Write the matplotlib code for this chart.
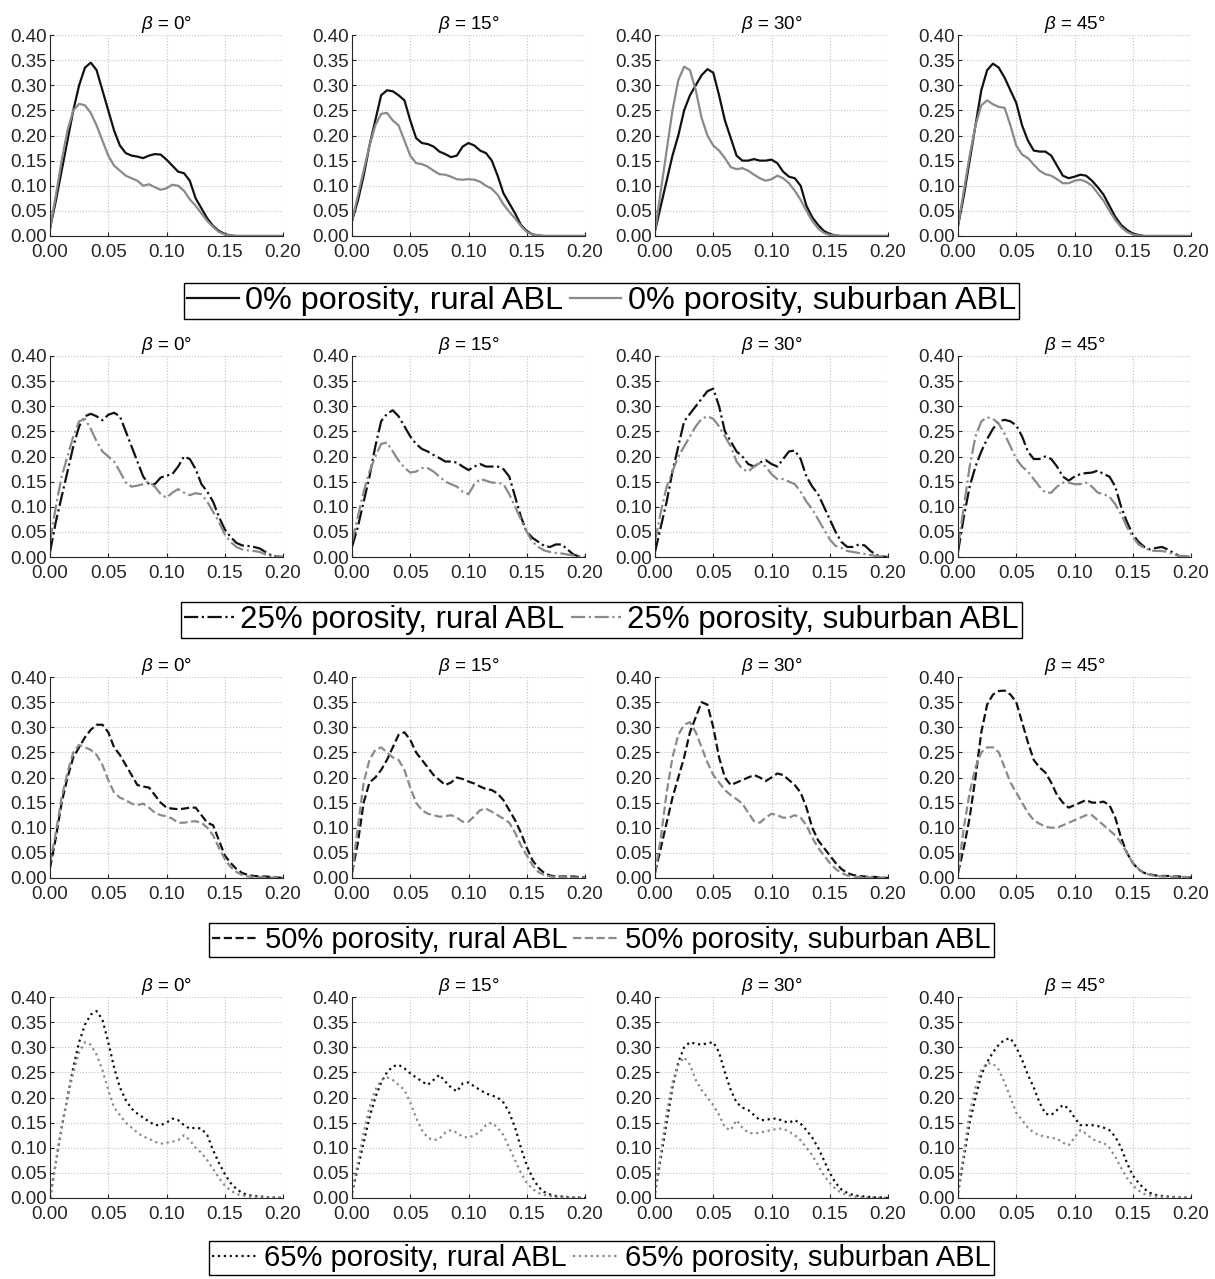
import numpy as np
import matplotlib
matplotlib.use("Agg")
import matplotlib.pyplot as plt

plt.rcParams['font.family'] = ['Liberation Sans', 'DejaVu Sans']
plt.rcParams['mathtext.fontset'] = 'custom'
plt.rcParams['mathtext.it'] = 'Liberation Sans:italic'
plt.rcParams['mathtext.rm'] = 'Liberation Sans'

# x positions shared by every curve
x = np.round(np.arange(0, 0.2001, 0.005), 3)

betas = [0, 15, 30, 45]
porosities = [0, 25, 50, 65]

# ---- 0% porosity ----
p0_rural = [
    [0.015, 0.07, 0.13, 0.19, 0.25, 0.30, 0.335, 0.345, 0.33, 0.29, 0.25, 0.21, 0.18, 0.165, 0.16, 0.158,
     0.155, 0.16, 0.163, 0.162, 0.152, 0.14, 0.128, 0.125, 0.11, 0.075, 0.055, 0.035, 0.02, 0.01, 0.004,
     0.001, 0, 0, 0, 0, 0, 0, 0, 0, 0],
    [0.03, 0.07, 0.12, 0.18, 0.23, 0.28, 0.29, 0.288, 0.28, 0.27, 0.23, 0.195, 0.185, 0.183, 0.178, 0.168,
     0.163, 0.157, 0.16, 0.178, 0.185, 0.18, 0.17, 0.165, 0.15, 0.12, 0.085, 0.065, 0.045, 0.022, 0.01,
     0.003, 0.001, 0, 0, 0, 0, 0, 0, 0, 0],
    [0.01, 0.06, 0.11, 0.16, 0.20, 0.25, 0.28, 0.30, 0.32, 0.332, 0.325, 0.28, 0.23, 0.195, 0.16, 0.15,
     0.15, 0.153, 0.15, 0.15, 0.152, 0.145, 0.128, 0.118, 0.115, 0.10, 0.06, 0.037, 0.022, 0.01, 0.004,
     0.001, 0, 0, 0, 0, 0, 0, 0, 0, 0],
    [0.02, 0.08, 0.15, 0.22, 0.29, 0.33, 0.343, 0.335, 0.315, 0.29, 0.265, 0.22, 0.19, 0.17, 0.168, 0.168,
     0.16, 0.14, 0.12, 0.115, 0.118, 0.122, 0.12, 0.11, 0.097, 0.082, 0.06, 0.038, 0.022, 0.012, 0.005,
     0.002, 0, 0, 0, 0, 0, 0, 0, 0, 0],
]
p0_suburban = [
    [0.015, 0.08, 0.15, 0.21, 0.25, 0.263, 0.26, 0.245, 0.22, 0.19, 0.16, 0.14, 0.13, 0.12, 0.115, 0.11,
     0.10, 0.103, 0.097, 0.092, 0.095, 0.102, 0.10, 0.09, 0.073, 0.06, 0.045, 0.03, 0.018, 0.008, 0.003,
     0.001, 0, 0, 0, 0, 0, 0, 0, 0, 0],
    [0.03, 0.08, 0.13, 0.18, 0.22, 0.243, 0.245, 0.23, 0.22, 0.19, 0.16, 0.145, 0.143, 0.138, 0.13, 0.123,
     0.122, 0.118, 0.113, 0.112, 0.113, 0.112, 0.108, 0.10, 0.094, 0.082, 0.063, 0.048, 0.035, 0.02, 0.008,
     0.003, 0.001, 0, 0, 0, 0, 0, 0, 0, 0],
    [0.01, 0.09, 0.17, 0.25, 0.31, 0.337, 0.33, 0.29, 0.235, 0.20, 0.18, 0.17, 0.155, 0.137, 0.133, 0.135,
     0.13, 0.122, 0.115, 0.11, 0.113, 0.12, 0.115, 0.105, 0.09, 0.072, 0.05, 0.03, 0.015, 0.006, 0.002,
     0.001, 0, 0, 0, 0, 0, 0, 0, 0, 0],
    [0.02, 0.09, 0.16, 0.22, 0.26, 0.27, 0.262, 0.257, 0.255, 0.22, 0.18, 0.162, 0.155, 0.142, 0.13, 0.123,
     0.12, 0.113, 0.105, 0.105, 0.11, 0.112, 0.108, 0.10, 0.085, 0.07, 0.05, 0.032, 0.018, 0.008, 0.003,
     0.001, 0, 0, 0, 0, 0, 0, 0, 0, 0],
]

# ---- 25% porosity ----
p25_rural = [
    [0.01, 0.07, 0.12, 0.17, 0.22, 0.26, 0.28, 0.285, 0.28, 0.272, 0.283, 0.287, 0.28, 0.25, 0.22, 0.19,
     0.16, 0.145, 0.145, 0.158, 0.162, 0.165, 0.18, 0.20, 0.195, 0.175, 0.145, 0.13, 0.11, 0.08, 0.055,
     0.04, 0.028, 0.023, 0.022, 0.02, 0.017, 0.01, 0.003, 0.001, 0],
    [0.02, 0.06, 0.11, 0.16, 0.22, 0.27, 0.285, 0.292, 0.28, 0.26, 0.24, 0.225, 0.215, 0.21, 0.203, 0.197,
     0.19, 0.19, 0.188, 0.18, 0.173, 0.18, 0.185, 0.18, 0.18, 0.18, 0.175, 0.16, 0.12, 0.08, 0.05,
     0.038, 0.03, 0.022, 0.02, 0.025, 0.025, 0.015, 0.005, 0.001, 0],
    [0.01, 0.06, 0.11, 0.17, 0.22, 0.27, 0.285, 0.30, 0.315, 0.33, 0.335, 0.30, 0.25, 0.23, 0.21, 0.20,
     0.185, 0.18, 0.188, 0.193, 0.185, 0.18, 0.195, 0.21, 0.212, 0.195, 0.16, 0.14, 0.125, 0.10, 0.075,
     0.05, 0.03, 0.02, 0.02, 0.025, 0.023, 0.012, 0.004, 0.001, 0],
    [0.01, 0.08, 0.14, 0.18, 0.21, 0.235, 0.255, 0.27, 0.273, 0.27, 0.262, 0.24, 0.21, 0.195, 0.195, 0.20,
     0.195, 0.18, 0.16, 0.152, 0.16, 0.165, 0.167, 0.168, 0.172, 0.165, 0.16, 0.14, 0.10, 0.07, 0.045,
     0.03, 0.02, 0.015, 0.018, 0.02, 0.015, 0.008, 0.002, 0.001, 0],
]
p25_suburban = [
    [0.03, 0.10, 0.16, 0.20, 0.24, 0.27, 0.275, 0.255, 0.23, 0.21, 0.20, 0.19, 0.17, 0.148, 0.14, 0.142,
     0.145, 0.15, 0.14, 0.125, 0.118, 0.128, 0.135, 0.128, 0.123, 0.127, 0.125, 0.11, 0.09, 0.07, 0.045,
     0.03, 0.02, 0.015, 0.013, 0.012, 0.01, 0.005, 0.002, 0.001, 0],
    [0.03, 0.08, 0.13, 0.17, 0.20, 0.225, 0.228, 0.21, 0.192, 0.178, 0.168, 0.17, 0.177, 0.177, 0.17, 0.16,
     0.15, 0.145, 0.14, 0.13, 0.125, 0.145, 0.155, 0.152, 0.148, 0.148, 0.145, 0.125, 0.10, 0.075, 0.05,
     0.03, 0.02, 0.013, 0.01, 0.008, 0.007, 0.005, 0.003, 0.001, 0],
    [0.03, 0.09, 0.14, 0.17, 0.20, 0.22, 0.24, 0.26, 0.275, 0.28, 0.275, 0.26, 0.24, 0.22, 0.19, 0.175,
     0.17, 0.18, 0.187, 0.18, 0.165, 0.155, 0.155, 0.15, 0.145, 0.13, 0.11, 0.095, 0.075, 0.055, 0.035,
     0.022, 0.018, 0.012, 0.01, 0.008, 0.006, 0.004, 0.002, 0.001, 0],
    [0.02, 0.10, 0.18, 0.24, 0.27, 0.278, 0.275, 0.265, 0.245, 0.22, 0.195, 0.18, 0.17, 0.155, 0.14, 0.128,
     0.128, 0.14, 0.148, 0.148, 0.145, 0.145, 0.148, 0.14, 0.128, 0.125, 0.12, 0.105, 0.085, 0.06, 0.04,
     0.025, 0.018, 0.013, 0.012, 0.012, 0.01, 0.005, 0.002, 0.001, 0],
]

# ---- 50% porosity ----
p50_rural = [
    [0.02, 0.08, 0.15, 0.20, 0.24, 0.26, 0.28, 0.295, 0.305, 0.305, 0.29, 0.26, 0.245, 0.225, 0.205, 0.185,
     0.182, 0.18, 0.165, 0.15, 0.14, 0.138, 0.137, 0.138, 0.14, 0.14, 0.125, 0.11, 0.105, 0.075, 0.045,
     0.03, 0.018, 0.01, 0.006, 0.004, 0.003, 0.003, 0.002, 0.001, 0],
    [0.01, 0.07, 0.15, 0.19, 0.20, 0.215, 0.235, 0.26, 0.285, 0.29, 0.275, 0.25, 0.235, 0.22, 0.205, 0.195,
     0.185, 0.19, 0.20, 0.197, 0.192, 0.188, 0.182, 0.177, 0.175, 0.168, 0.155, 0.135, 0.115, 0.09, 0.06,
     0.035, 0.02, 0.01, 0.005, 0.003, 0.003, 0.003, 0.003, 0.002, 0.001],
    [0.01, 0.06, 0.11, 0.16, 0.20, 0.24, 0.29, 0.32, 0.35, 0.345, 0.30, 0.24, 0.20, 0.185, 0.19, 0.195,
     0.20, 0.205, 0.20, 0.193, 0.20, 0.208, 0.205, 0.195, 0.185, 0.17, 0.14, 0.10, 0.075, 0.06, 0.045,
     0.03, 0.018, 0.01, 0.006, 0.004, 0.003, 0.002, 0.002, 0.001, 0],
    [0.01, 0.06, 0.12, 0.20, 0.29, 0.345, 0.365, 0.372, 0.373, 0.365, 0.35, 0.31, 0.27, 0.235, 0.22, 0.21,
     0.19, 0.165, 0.15, 0.14, 0.145, 0.15, 0.155, 0.15, 0.15, 0.152, 0.145, 0.12, 0.08, 0.05, 0.03,
     0.017, 0.01, 0.007, 0.005, 0.004, 0.004, 0.003, 0.003, 0.002, 0.001],
]
p50_suburban = [
    [0.03, 0.09, 0.16, 0.21, 0.25, 0.265, 0.26, 0.255, 0.245, 0.225, 0.195, 0.17, 0.16, 0.155, 0.148, 0.145,
     0.148, 0.14, 0.13, 0.125, 0.123, 0.118, 0.11, 0.11, 0.112, 0.113, 0.11, 0.10, 0.085, 0.06, 0.038,
     0.022, 0.012, 0.006, 0.003, 0.002, 0.002, 0.001, 0.001, 0.001, 0],
    [0.01, 0.10, 0.19, 0.235, 0.255, 0.26, 0.25, 0.24, 0.235, 0.215, 0.18, 0.15, 0.135, 0.128, 0.125, 0.122,
     0.123, 0.125, 0.12, 0.112, 0.112, 0.123, 0.135, 0.138, 0.132, 0.125, 0.118, 0.11, 0.09, 0.065, 0.045,
     0.025, 0.012, 0.006, 0.003, 0.002, 0.002, 0.001, 0.001, 0.001, 0],
    [0.01, 0.08, 0.17, 0.24, 0.285, 0.305, 0.31, 0.29, 0.26, 0.23, 0.205, 0.19, 0.175, 0.165, 0.157, 0.148,
     0.13, 0.113, 0.11, 0.12, 0.128, 0.125, 0.12, 0.12, 0.125, 0.12, 0.105, 0.08, 0.06, 0.045, 0.03,
     0.018, 0.01, 0.005, 0.003, 0.002, 0.002, 0.001, 0.001, 0.001, 0],
    [0.01, 0.10, 0.17, 0.22, 0.25, 0.26, 0.26, 0.25, 0.22, 0.19, 0.17, 0.15, 0.13, 0.115, 0.108, 0.102,
     0.10, 0.10, 0.105, 0.11, 0.115, 0.12, 0.125, 0.125, 0.115, 0.105, 0.095, 0.085, 0.07, 0.05, 0.03,
     0.018, 0.01, 0.006, 0.004, 0.003, 0.003, 0.002, 0.002, 0.002, 0.001],
]

# ---- 65% porosity ----
p65_rural = [
    [0.0, 0.07, 0.14, 0.20, 0.26, 0.31, 0.345, 0.365, 0.372, 0.355, 0.31, 0.26, 0.22, 0.195, 0.178, 0.168,
     0.16, 0.152, 0.145, 0.145, 0.15, 0.158, 0.155, 0.145, 0.138, 0.14, 0.138, 0.125, 0.095, 0.07, 0.048,
     0.03, 0.018, 0.01, 0.006, 0.004, 0.003, 0.002, 0.001, 0.001, 0],
    [0.01, 0.06, 0.11, 0.16, 0.20, 0.23, 0.25, 0.262, 0.265, 0.258, 0.248, 0.24, 0.232, 0.225, 0.235, 0.245,
     0.232, 0.22, 0.212, 0.228, 0.23, 0.222, 0.215, 0.208, 0.204, 0.20, 0.19, 0.17, 0.14, 0.10, 0.065,
     0.04, 0.022, 0.012, 0.007, 0.004, 0.003, 0.002, 0.001, 0.001, 0],
    [0.01, 0.08, 0.15, 0.22, 0.27, 0.30, 0.31, 0.307, 0.305, 0.308, 0.31, 0.29, 0.25, 0.215, 0.19, 0.18,
     0.175, 0.165, 0.155, 0.155, 0.158, 0.158, 0.153, 0.15, 0.155, 0.148, 0.135, 0.12, 0.10, 0.075, 0.05,
     0.03, 0.017, 0.01, 0.006, 0.004, 0.003, 0.002, 0.001, 0.001, 0],
    [0.01, 0.08, 0.15, 0.20, 0.245, 0.27, 0.29, 0.305, 0.315, 0.318, 0.30, 0.275, 0.245, 0.22, 0.19, 0.168,
     0.165, 0.175, 0.185, 0.178, 0.16, 0.145, 0.145, 0.145, 0.143, 0.14, 0.135, 0.122, 0.10, 0.07, 0.045,
     0.03, 0.018, 0.01, 0.006, 0.004, 0.003, 0.002, 0.001, 0.001, 0],
]
p65_suburban = [
    [0.0, 0.07, 0.14, 0.20, 0.25, 0.29, 0.31, 0.305, 0.285, 0.255, 0.215, 0.18, 0.165, 0.15, 0.14, 0.13,
     0.122, 0.118, 0.112, 0.108, 0.11, 0.112, 0.115, 0.125, 0.115, 0.10, 0.09, 0.075, 0.058, 0.04, 0.025,
     0.015, 0.008, 0.005, 0.003, 0.002, 0.001, 0.001, 0.001, 0.001, 0],
    [0.01, 0.07, 0.13, 0.18, 0.215, 0.235, 0.24, 0.235, 0.225, 0.215, 0.19, 0.16, 0.135, 0.12, 0.115, 0.118,
     0.13, 0.135, 0.13, 0.122, 0.12, 0.125, 0.132, 0.145, 0.15, 0.14, 0.125, 0.10, 0.075, 0.05, 0.03,
     0.018, 0.01, 0.006, 0.004, 0.002, 0.001, 0.001, 0.001, 0.001, 0],
    [0.01, 0.09, 0.17, 0.23, 0.265, 0.28, 0.265, 0.235, 0.215, 0.20, 0.185, 0.165, 0.14, 0.135, 0.155, 0.14,
     0.13, 0.128, 0.13, 0.133, 0.135, 0.138, 0.138, 0.132, 0.125, 0.115, 0.10, 0.085, 0.065, 0.045, 0.03,
     0.018, 0.01, 0.006, 0.003, 0.002, 0.001, 0.001, 0.001, 0.001, 0],
    [0.01, 0.09, 0.17, 0.22, 0.255, 0.268, 0.268, 0.255, 0.23, 0.20, 0.17, 0.155, 0.14, 0.13, 0.125, 0.122,
     0.12, 0.118, 0.11, 0.105, 0.12, 0.135, 0.128, 0.118, 0.112, 0.11, 0.10, 0.082, 0.06, 0.04, 0.025,
     0.015, 0.008, 0.005, 0.003, 0.002, 0.001, 0.001, 0.001, 0.001, 0],
]

rural = [p0_rural, p25_rural, p50_rural, p65_rural]
suburban = [p0_suburban, p25_suburban, p50_suburban, p65_suburban]

styles = ['-', '-.', '--', ':']
black = '#111111'
gray = '#8a8a8a'

W, H = 1215, 1279
fig = plt.figure(figsize=(W / 100, H / 100), dpi=100)

col_left = [50, 352, 655, 958]
row_top = [35, 356, 677, 997]
aw, ah = 233, 201
leg_y = [301, 620, 940, 1258]
leg_size = [23.3, 22.5, 21, 21]

for r in range(4):
    for c in range(4):
        ax = fig.add_axes([col_left[c] / W, 1 - (row_top[r] + ah) / H, aw / W, ah / H])
        l1, = ax.plot(x, rural[r][c], styles[r], color=black, lw=1.6)
        l2, = ax.plot(x, suburban[r][c], styles[r], color=gray, lw=1.6)
        ax.set_xlim(0, 0.2)
        ax.set_ylim(0, 0.4)
        ax.set_xticks(np.arange(0, 0.201, 0.05))
        ax.set_yticks(np.arange(0, 0.401, 0.05))
        ax.xaxis.set_major_formatter(plt.FormatStrFormatter('%.2f'))
        ax.yaxis.set_major_formatter(plt.FormatStrFormatter('%.2f'))
        ax.grid(True, ls=':', color='#c0c0c0', lw=0.8)
        ax.tick_params(direction='in', length=3, labelsize=13.5, colors='#262626')
        ax.tick_params(axis='x', pad=6)
        ax.tick_params(axis='y', pad=2)
        for s in ['top', 'right']:
            ax.spines[s].set_visible(False)
        for s in ['left', 'bottom']:
            ax.spines[s].set_color('#262626')
            ax.spines[s].set_linewidth(0.8)
        ax.set_title(r'$\beta$ = %d°' % betas[c], fontsize=13.5, pad=4)
        if c == 0:
            handles = [l1, l2]

    p = porosities[r]
    fig.legend(handles, ['%d%% porosity, rural ABL' % p, '%d%% porosity, suburban ABL' % p],
               loc='center', bbox_to_anchor=(0.495, 1 - leg_y[r] / H), ncol=2,
               fontsize=leg_size[r], frameon=True, fancybox=False, edgecolor='black',
               framealpha=1, borderpad=0.1, handlelength=1.6, handletextpad=0.2,
               columnspacing=0.2, borderaxespad=0)

fig.savefig('out.png', dpi=100)
